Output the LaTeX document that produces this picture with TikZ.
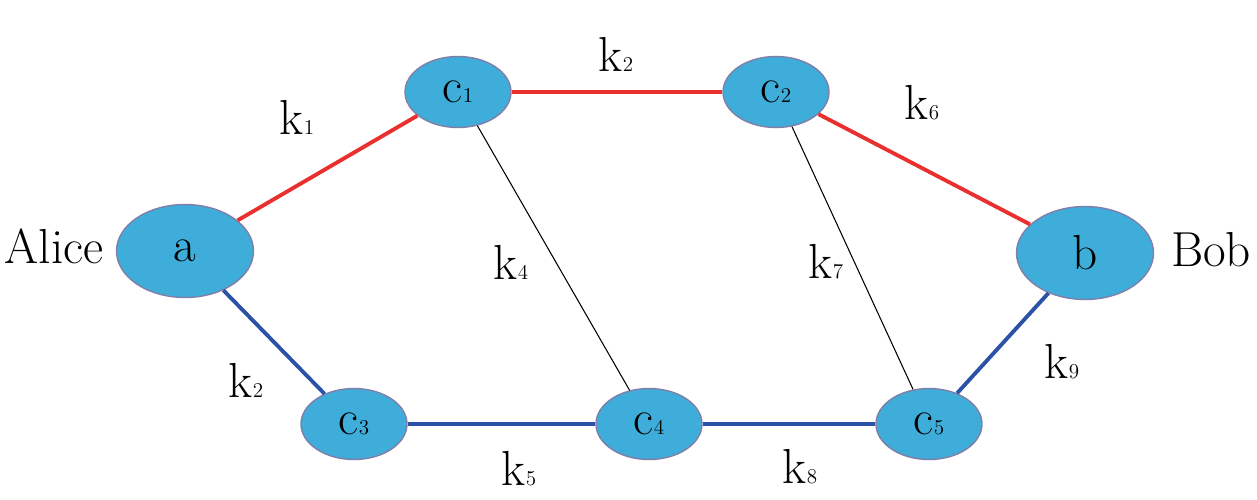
\documentclass[tikz,border=0pt]{standalone}
\usetikzlibrary{shapes.geometric}
\definecolor{nodefill}{HTML}{3FADDA}
\definecolor{nodeedge}{HTML}{7F7FAA}
\definecolor{redline}{HTML}{E8302E}
\definecolor{blueline}{HTML}{2B52A6}
\newcommand\sbs[1]{\fontsize{12}{14}\selectfont #1}
\tikzset{
  bignode/.style={ellipse, draw=nodeedge, line width=0.8pt, fill=nodefill, inner sep=0pt,
    minimum width=2.74cm, minimum height=1.86cm, font=\rmfamily\fontsize{28}{30}\selectfont},
  smallnode/.style={ellipse, draw=nodeedge, line width=0.8pt, fill=nodefill, inner sep=0pt,
    minimum width=2.12cm, minimum height=1.42cm, font=\rmfamily\fontsize{28}{30}\selectfont},
  lbl/.style={inner sep=0pt, font=\rmfamily\fontsize{28}{30}\selectfont},
  redc/.style={draw=redline, line width=2.2pt},
  bluec/.style={draw=blueline, line width=2.2pt},
  thinc/.style={draw=black, line width=0.6pt},
}
\begin{document}
\begin{tikzpicture}[x=0.02cm,y=-0.02cm]
\useasboundingbox (0,0) rectangle (1257,500);
\node[bignode] (a) at (185,251) {a};
\node[bignode] (b) at (1085,253) {b};
\node[smallnode] (c1) at (458,92) {c{\sbs{1}}};
\node[smallnode] (c2) at (776,92) {c{\sbs{2}}};
\node[smallnode] (c3) at (354,424) {c{\sbs{3}}};
\node[smallnode] (c4) at (649,424) {c{\sbs{4}}};
\node[smallnode] (c5) at (929,424) {c{\sbs{5}}};
\draw[redc] (a) -- (c1);
\draw[redc] (c1) -- (c2);
\draw[redc] (c2) -- (b);
\draw[bluec] (a) -- (c3);
\draw[bluec] (c3) -- (c4);
\draw[bluec] (c4) -- (c5);
\draw[bluec] (c5) -- (b);
\draw[thinc] (c1) -- (c4);
\draw[thinc] (c2) -- (c5);
\node[lbl] (alice) at (54,246) {Alice};
\node[lbl] (bob) at (1211,250) {Bob};
\node[lbl] (l1) at (297,117) {k{\sbs{1}}};
\node[lbl] (l2) at (616,54) {k{\sbs{2}}};
\node[lbl] (l6) at (922,103) {k{\sbs{6}}};
\node[lbl] (l4) at (511,262) {k{\sbs{4}}};
\node[lbl] (l7) at (826,262) {k{\sbs{7}}};
\node[lbl] (l2b) at (246,380) {k{\sbs{2}}};
\node[lbl] (l5) at (519,469) {k{\sbs{5}}};
\node[lbl] (l8) at (800,467) {k{\sbs{8}}};
\node[lbl] (l9) at (1062,362) {k{\sbs{9}}};
\end{tikzpicture}
\end{document}
